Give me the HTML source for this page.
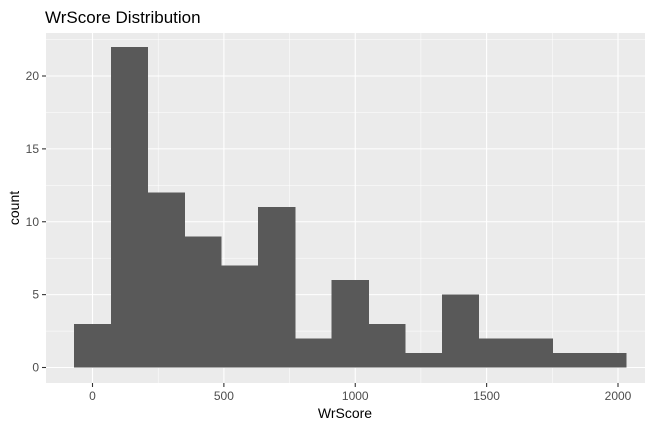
<!DOCTYPE html>
<html><head><meta charset="utf-8"><style>
body{margin:0;background:#fff;font-family:"Liberation Sans",sans-serif;}
</style></head><body>
<svg width="661" height="429" xmlns="http://www.w3.org/2000/svg">
<text x="45" y="23" font-size="17" fill="#000">WrScore Distribution</text>
<rect x="46" y="33" width="599" height="350" fill="#EBEBEB"/>
<g id="grid"></g>
<g id="bars" shape-rendering="crispEdges"></g>
<g id="axes"></g>
<text x="345" y="418" font-size="14" text-anchor="middle" fill="#000">WrScore</text>
<text transform="translate(19,208) rotate(-90)" font-size="14" text-anchor="middle" fill="#000">count</text>
</svg>
<script>
const binCenters=[0,140,280,420,560,700,840,980,1120,1260,1400,1540,1680,1820,1960];
const counts=[3,22,12,9,7,11,2,6,3,1,5,2,2,1,1];
const binWidth=140;
const xTicks=[0,500,1000,1500,2000];
const yTicks=[0,5,10,15,20];
const NS="http://www.w3.org/2000/svg";
const px0=92.5, pxPer=(618-92.5)/2000, py0=367.5, pyPer=(367.5-76)/20;
const X=v=>px0+v*pxPer, Y=v=>py0-v*pyPer;
const L=46,R=645,T=33,B=383;
function mk(t,a,p){const e=document.createElementNS(NS,t);for(const k in a)e.setAttribute(k,a[k]);document.getElementById(p).appendChild(e);return e;}
const g="grid";
for(let i=0;i<yTicks.length;i++){
  const v=yTicks[i];
  let e=mk("line",{x1:L,x2:R,y1:Y(v),y2:Y(v),stroke:"#fff","stroke-width":1.1},g);
  
  const m=v+2.5;
  if(Y(m)>T){e=mk("line",{x1:L,x2:R,y1:Y(m),y2:Y(m),stroke:"#fff","stroke-width":0.5},g);
  }
  e=mk("line",{x1:L-4,x2:L,y1:Y(v),y2:Y(v),stroke:"#333","stroke-width":1.1},"axes");
  
  e=mk("text",{x:L-7,y:Y(v)+4,"font-size":12,"text-anchor":"end",fill:"#4D4D4D"},"axes");e.textContent=v;
  
}
for(let i=0;i<xTicks.length;i++){
  const v=xTicks[i];
  let e=mk("line",{y1:T,y2:B,x1:X(v),x2:X(v),stroke:"#fff","stroke-width":1.1},g);
  
  for(const m of [v-250,v+250]){ if(X(m)>L&&X(m)<R&&(m!==v-250||i===0)){
    e=mk("line",{y1:T,y2:B,x1:X(m),x2:X(m),stroke:"#fff","stroke-width":0.5},g);
    }}
  e=mk("line",{y1:B,y2:B+4,x1:X(v),x2:X(v),stroke:"#333","stroke-width":1.1},"axes");
  
  e=mk("text",{x:X(v),y:B+17,"font-size":12,"text-anchor":"middle",fill:"#4D4D4D"},"axes");e.textContent=v;
  
}
for(let i=0;i<counts.length;i++){
  const x1=X(binCenters[i]-binWidth/2),x2=X(binCenters[i]+binWidth/2);
  const e=mk("rect",{x:x1,y:Y(counts[i]),width:x2-x1+0.5,height:Y(0)-Y(counts[i]),fill:"#595959"},"bars");
  
  
}
</script>
</body></html>
